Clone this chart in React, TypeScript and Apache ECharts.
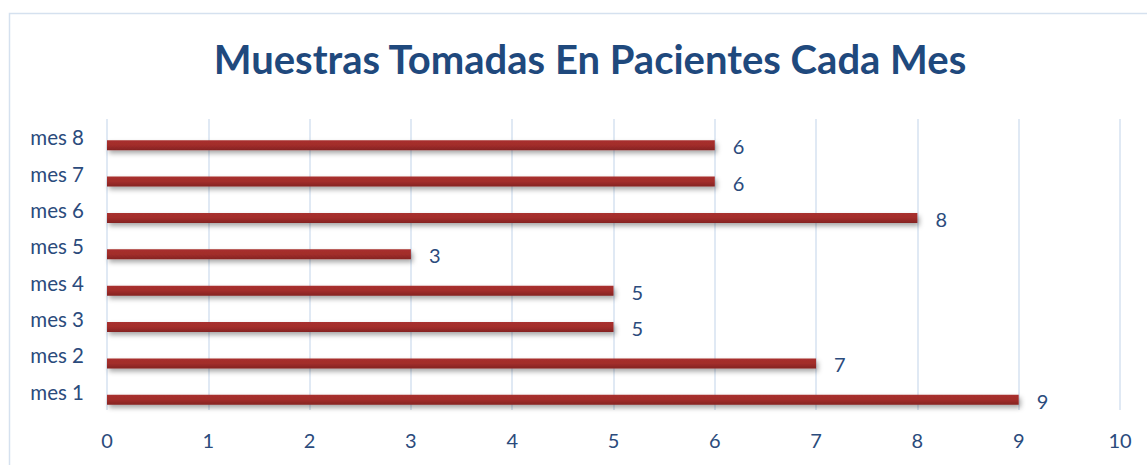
import React, { useEffect, useRef } from "react";
import * as echarts from "echarts";

const categories = ["mes 1", "mes 2", "mes 3", "mes 4", "mes 5", "mes 6", "mes 7", "mes 8"];
const values = [9, 7, 5, 5, 3, 8, 6, 6];
const titleText = "Muestras Tomadas En Pacientes Cada Mes";

export default function App() {
  const ref = useRef<HTMLDivElement>(null);
  useEffect(() => {
    document.body.style.margin = "0";
    const chart = echarts.init(ref.current!, null, { renderer: "svg" });
    const textColor = "#2B4B7C";
    chart.setOption({
      animation: false,
      backgroundColor: "#ffffff",
      title: {
        text: titleText,
        left: 585,
        textAlign: "center",
        top: 34,
        textStyle: { fontFamily: "Lato", fontWeight: "bold", fontSize: 40, color: "#1F497D" },
      },
      graphic: [
        {
          type: "rect",
          shape: { x: 9.5, y: 13.5, width: 1300, height: 600 },
          style: { fill: "none", stroke: "#D5E1EF", lineWidth: 1.5 },
          silent: true,
        },
      ],
      grid: { left: 107, right: 27, top: 119, bottom: 55 },
      xAxis: {
        type: "value",
        min: 0,
        max: 10,
        interval: 1,
        axisLine: { show: false },
        axisTick: { show: false },
        splitLine: { show: true, lineStyle: { color: "#D6E2F0", width: 1.5 } },
        axisLabel: { color: textColor, fontFamily: "Lato", fontSize: 20, margin: 20 },
      },
      yAxis: {
        type: "category",
        data: categories,
        axisLine: { show: false },
        axisTick: { show: false },
        splitLine: { show: false },
        axisLabel: { color: textColor, fontFamily: "Lato", fontSize: 20.5, margin: 23 },
      },
      series: [
        {
          type: "bar",
          data: categories.map(() => null),
          barWidth: 10,
          barGap: "60%",
          silent: true,
        },
        {
          type: "bar",
          data: values,
          barWidth: 10,
          barGap: "60%",
          itemStyle: {
            color: new echarts.graphic.LinearGradient(0, 0, 0, 1, [
              { offset: 0, color: "#A8302E" },
              { offset: 0.5, color: "#A22D2B" },
              { offset: 1, color: "#842322" },
            ]),
            shadowColor: "rgba(0,0,0,0.35)",
            shadowBlur: 5,
            shadowOffsetX: 2,
            shadowOffsetY: 3,
          },
          label: {
            show: true,
            position: "right",
            distance: 18,
            offset: [0, 1],
            color: textColor,
            fontFamily: "Lato",
            fontSize: 20,
          },
        },
      ],
    });
    return () => chart.dispose();
  }, []);
  return <div ref={ref} style={{ width: 1147, height: 465 }} />;
}
